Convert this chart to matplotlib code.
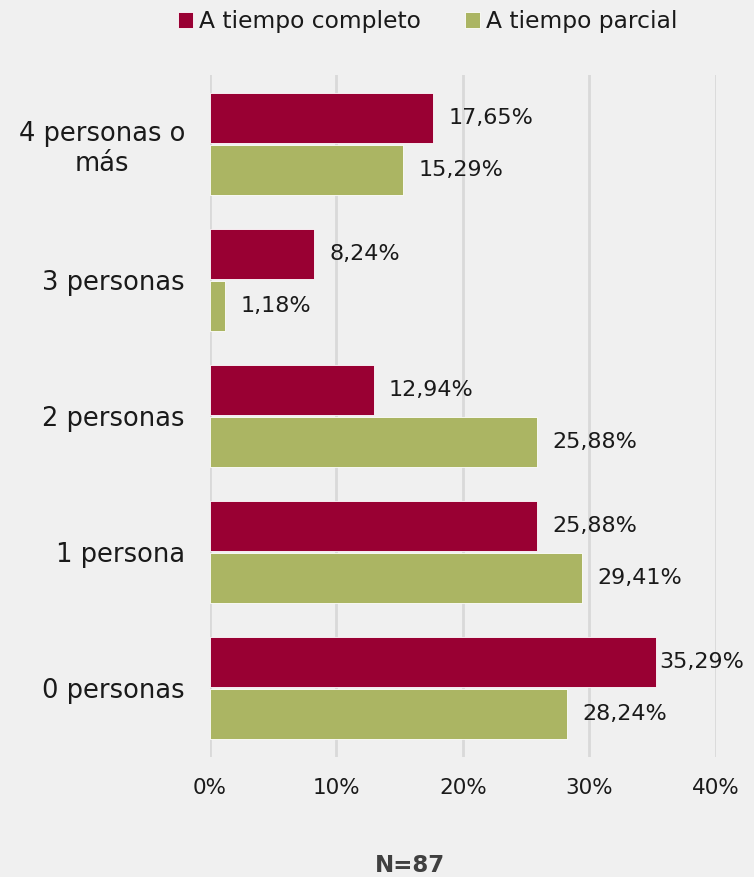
import matplotlib.pyplot as plt
import numpy as np

categories = ["0 personas", "1 persona", "2 personas", "3 personas", "4 personas o\nmás"]
completo = [35.29, 25.88, 12.94, 8.24, 17.65]
parcial = [28.24, 29.41, 25.88, 1.18, 15.29]
series_names = ["A tiempo completo", "A tiempo parcial"]
x_ticks = [0, 10, 20, 30, 40]

RED = "#990033"
GREEN = "#ABB563"
BG = "#F0F0F0"
TEXT = "#1A1A1A"

plt.rcParams["font.family"] = ["DejaVu Sans"]


def fmt(value):
    return f"{value:.2f}".replace(".", ",") + "%"


fig = plt.figure(figsize=(7.54, 8.77), dpi=100, facecolor=BG)
ax = fig.add_axes([0.2785, 0.1368, 0.6711, 0.7777], facecolor=BG)

y = np.arange(len(categories))
height = 0.368
offset = 0.19
bars_c = ax.barh(y + offset, completo, height, color=RED, edgecolor="white",
                 linewidth=0.6, label=series_names[0], zorder=3)
bars_p = ax.barh(y - offset, parcial, height, color=GREEN, edgecolor="white",
                 linewidth=0.6, label=series_names[1], zorder=3)

for bars, values in ((bars_c, completo), (bars_p, parcial)):
    for bar, value in zip(bars, values):
        # the longest bar keeps its label tight against the end
        pad = 0.25 if value > 33 else 1.2
        ax.text(value + pad, bar.get_y() + bar.get_height() / 2, fmt(value),
                va="center", ha="left", fontsize=16, color=TEXT, zorder=4)

ax.set_xlim(0, 40)
ax.set_ylim(-0.51, 4.51)
ax.set_xticks(x_ticks)
ax.set_xticklabels([f"{t}%" for t in x_ticks], fontsize=15.5, color=TEXT)
ax.set_yticks(y)
ax.set_yticklabels(categories, fontsize=18.5, color=TEXT, ha="right",
                   multialignment="center")
ax.tick_params(axis="x", length=0, pad=15)
ax.tick_params(axis="y", length=0, pad=18)
ax.xaxis.grid(True, color="#D9D9D9", linewidth=2, zorder=0)
for spine in ax.spines.values():
    spine.set_visible(False)

fig.legend(handles=[bars_c, bars_p], labels=series_names, loc="upper center",
           bbox_to_anchor=(0.567, 1.012), ncol=2, frameon=False, fontsize=16.8,
           handlelength=0.65, handleheight=0.65, handletextpad=0.25,
           columnspacing=1.9, labelcolor=TEXT)

fig.text(0.544, 0.0, "N=87", ha="center", va="bottom", fontsize=16.5,
         fontweight="bold", color="#404040")

fig.savefig("out.png", dpi=100, facecolor=BG)
